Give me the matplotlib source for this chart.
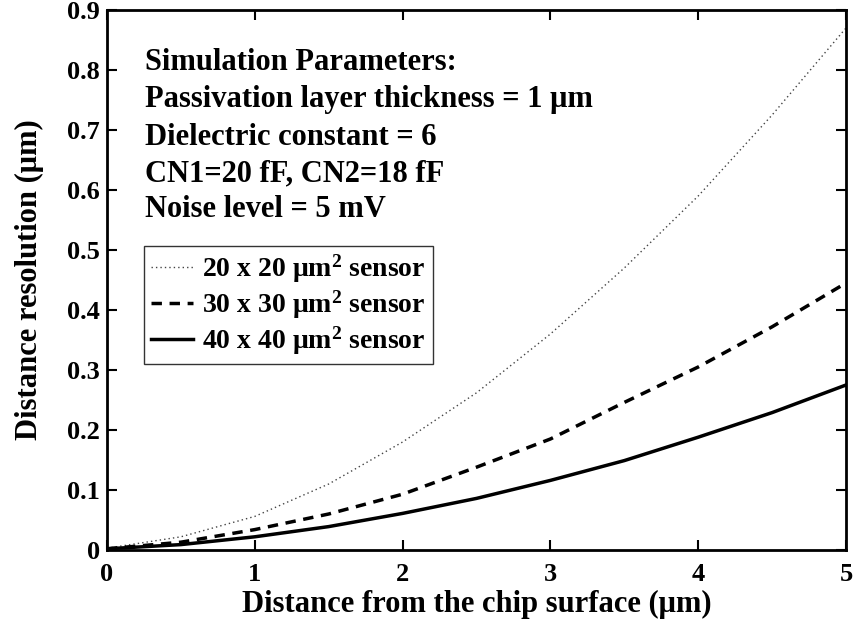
import matplotlib
matplotlib.use("Agg")
import matplotlib.pyplot as plt

plt.rcParams['font.family'] = ['Liberation Serif', 'DejaVu Serif']
plt.rcParams['font.weight'] = 'bold'
plt.rcParams['mathtext.fontset'] = 'custom'
plt.rcParams['mathtext.rm'] = 'Liberation Serif:bold'
plt.rcParams['mathtext.bf'] = 'Liberation Serif:bold'
plt.rcParams['mathtext.it'] = 'Liberation Serif:bold'

distance = [0, 0.5, 1, 1.5, 2, 2.5, 3, 3.5, 4, 4.5, 5]
res_20 = [0.003, 0.022, 0.056, 0.110, 0.180, 0.262, 0.360, 0.470, 0.590, 0.725, 0.870]
res_30 = [0.002, 0.013, 0.034, 0.060, 0.093, 0.138, 0.185, 0.246, 0.305, 0.372, 0.445]
res_40 = [0.002, 0.009, 0.022, 0.039, 0.061, 0.086, 0.116, 0.149, 0.188, 0.229, 0.275]
labels = ['20 x 20 μm$^{2}$ sensor', '30 x 30 μm$^{2}$ sensor', '40 x 40 μm$^{2}$ sensor']
xticks = [0, 1, 2, 3, 4, 5]
yticks = [0, 0.1, 0.2, 0.3, 0.4, 0.5, 0.6, 0.7, 0.8, 0.9]
ytick_labels = ['0', '0.1', '0.2', '0.3', '0.4', '0.5', '0.6', '0.7', '0.8', '0.9']
params = ['Simulation Parameters:',
          'Passivation layer thickness = 1 μm',
          'Dielectric constant = 6',
          'CN1=20 fF, CN2=18 fF',
          'Noise level = 5 mV']

W, H = 854, 626
L, R, T, B = 107, 846, 10, 550
fig = plt.figure(figsize=(W / 100, H / 100), dpi=100)
ax = fig.add_axes([L / W, (H - B) / H, (R - L) / W, (B - T) / H])

ax.plot(distance, res_20, color='#444444', lw=1.0, linestyle=(0, (1, 2.2)), label=labels[0])
ax.plot(distance, res_30, color='black', lw=2.5, linestyle=(0, (3, 2.2)), label=labels[1])
ax.plot(distance, res_40, color='black', lw=2.5, linestyle='-', label=labels[2])

ax.set_xlim(0, 5)
ax.set_ylim(0, 0.9)
ax.set_xticks(xticks)
ax.set_xticklabels([str(t) for t in xticks])
ax.set_yticks(yticks)
ax.set_yticklabels(ytick_labels)
ax.tick_params(direction='in', length=7, width=1.5, top=True, right=True, labelsize=19)
ax.tick_params(axis='x', pad=9.5)
ax.tick_params(axis='y', pad=5)
for s in ax.spines.values():
    s.set_linewidth(2)

ax.set_xlabel('Distance from the chip surface (μm)', fontsize=22, fontweight='bold', labelpad=3)
ax.set_ylabel('Distance resolution (μm)', fontsize=22, fontweight='bold', labelpad=17)

baselines_px = [70, 107, 145, 181, 217]
for txt, py in zip(params, baselines_px):
    ax.text((145 - L) / (R - L), 1 - (py - T) / (B - T), txt, transform=ax.transAxes,
            fontsize=22, fontweight='bold', va='baseline', ha='left')

leg = ax.legend(loc='upper left', bbox_to_anchor=((144 - L) / (R - L), 1 - (246 - T) / (B - T)),
                fontsize=20, frameon=True, fancybox=False, edgecolor='black',
                handlelength=1.5, handletextpad=0.35, borderpad=0.25, labelspacing=0.12,
                borderaxespad=0)
leg.get_frame().set_linewidth(1.0)

fig.savefig('out.png', dpi=100)
